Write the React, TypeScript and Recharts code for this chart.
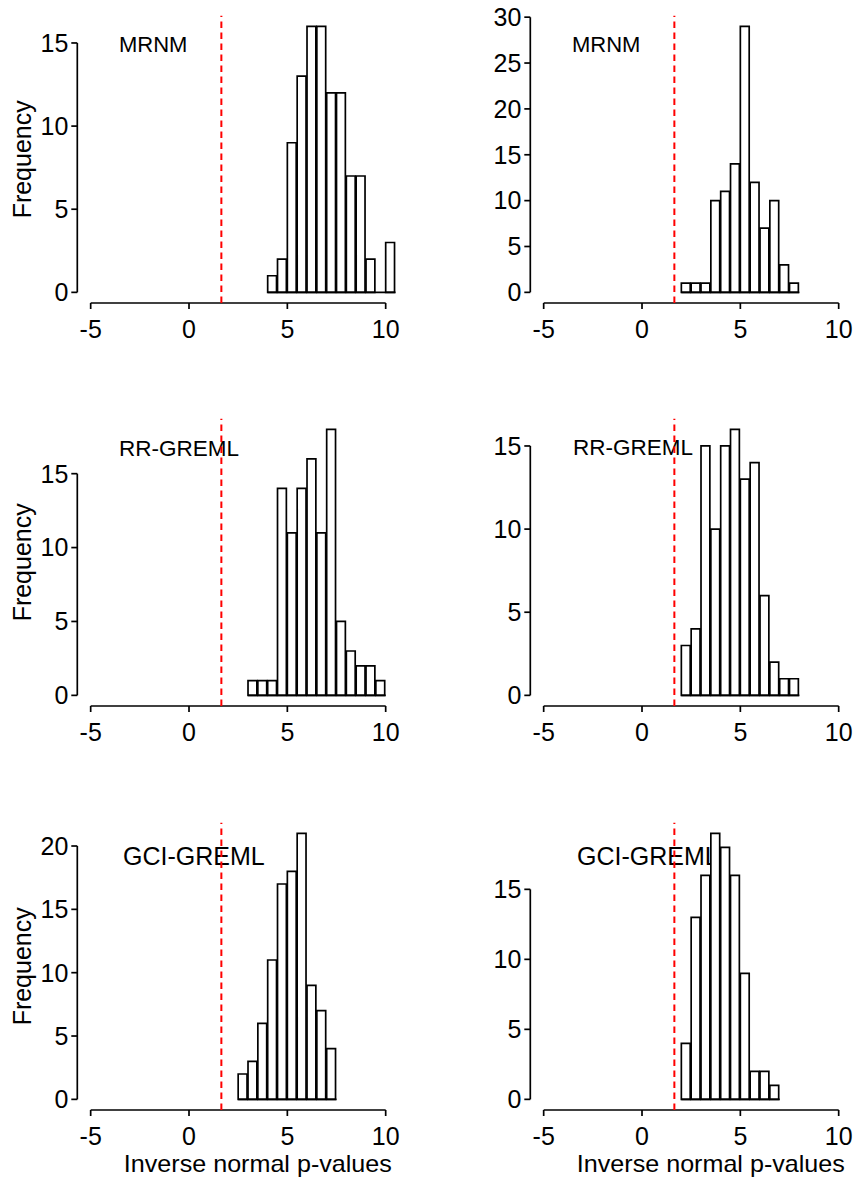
import React from 'react';
import { ComposedChart, Bar, XAxis, YAxis, ReferenceLine } from 'recharts';

// histogram bins (width 0.5): bin midpoints and counts
const mrnmLeftMid = [4.25, 4.75, 5.25, 5.75, 6.25, 6.75, 7.25, 7.75, 8.25, 8.75, 9.25, 9.75, 10.25];
const mrnmLeftCount = [1, 2, 9, 13, 16, 16, 12, 12, 7, 7, 2, 0, 3];

const mrnmRightMid = [2.25, 2.75, 3.25, 3.75, 4.25, 4.75, 5.25, 5.75, 6.25, 6.75, 7.25, 7.75];
const mrnmRightCount = [1, 1, 1, 10, 11, 14, 29, 12, 7, 10, 3, 1];

const rrLeftMid = [3.25, 3.75, 4.25, 4.75, 5.25, 5.75, 6.25, 6.75, 7.25, 7.75, 8.25, 8.75, 9.25, 9.75];
const rrLeftCount = [1, 1, 1, 14, 11, 14, 16, 11, 18, 5, 3, 2, 2, 1];

const rrRightMid = [2.25, 2.75, 3.25, 3.75, 4.25, 4.75, 5.25, 5.75, 6.25, 6.75, 7.25, 7.75];
const rrRightCount = [3, 4, 15, 10, 15, 16, 13, 14, 6, 2, 1, 1];

const gciLeftMid = [2.75, 3.25, 3.75, 4.25, 4.75, 5.25, 5.75, 6.25, 6.75, 7.25];
const gciLeftCount = [2, 3, 6, 11, 17, 18, 21, 9, 7, 4];

const gciRightMid = [2.25, 2.75, 3.25, 3.75, 4.25, 4.75, 5.25, 5.75, 6.25, 6.75];
const gciRightCount = [4, 13, 16, 19, 18, 16, 9, 2, 2, 1];

const xTicks = [-5, 0, 5, 10];
const yTicks15 = [0, 5, 10, 15];
const yTicks20 = [0, 5, 10, 15, 20];
const yTicks30 = [0, 5, 10, 15, 20, 25, 30];

const titles = ['MRNM', 'RR-GREML', 'GCI-GREML'];
const xLabel = 'Inverse normal p-values';
const yLabel = 'Frequency';
const threshold = 1.645; // qnorm(0.95)

// layout (R-like: xlim c(-5, 12), 4% padding)
const X_LO = -5.68;
const X_HI = 12.68;
const Y_AXIS_W = 77.3;
const PLOT_W = 361.1;
const PLOT_H = 287.3;
const TOP_PAD = 15.7;
const X_AXIS_H = 100;
const BIN = 0.5;
const FONT = '"Liberation Sans", Arial, Helvetica, sans-serif';
const INK = '#000';

const zip = (mid: number[], count: number[]) => mid.map((m, i) => ({ mid: m, count: count[i] }));

const panels = [
  { data: zip(mrnmLeftMid, mrnmLeftCount), yTicks: yTicks15, title: titles[0], col: 0, row: 0, tx: 119, tb: 53, tf: 22 },
  { data: zip(mrnmRightMid, mrnmRightCount), yTicks: yTicks30, title: titles[0], col: 1, row: 0, tx: 572, tb: 53, tf: 22 },
  { data: zip(rrLeftMid, rrLeftCount), yTicks: yTicks15, title: titles[1], col: 0, row: 1, tx: 119, tb: 457, tf: 22.5 },
  { data: zip(rrRightMid, rrRightCount), yTicks: yTicks15, title: titles[1], col: 1, row: 1, tx: 573, tb: 456.5, tf: 22.5 },
  { data: zip(gciLeftMid, gciLeftCount), yTicks: yTicks20, title: titles[2], col: 0, row: 2, tx: 123, tb: 865, tf: 25 },
  { data: zip(gciRightMid, gciRightCount), yTicks: yTicks15, title: titles[2], col: 1, row: 2, tx: 577, tb: 865, tf: 25 },
];

const colLeft = [0, 452.5];
const rowTop = [0, 403.4, 807];

const FreqLabel = (props: any) => {
  const vb = props.viewBox;
  const cx = 31;
  const cy = vb.y + vb.height / 2;
  return (
    <text x={cx} y={cy} transform={`rotate(-90 ${cx} ${cy})`} textAnchor="middle"
      fontSize={25} fontFamily={FONT} fill={INK}>
      {yLabel}
    </text>
  );
};

const XLabel = (props: any) => {
  const vb = props.viewBox;
  return (
    <text x={vb.x + vb.width / 2} y={vb.y + 62} textAnchor="middle"
      fontSize={23} fontFamily={FONT} fill={INK} textLength={268} lengthAdjust="spacingAndGlyphs">
      {xLabel}
    </text>
  );
};

const Panel = ({ p }: { p: any }) => {
  const max = Math.max(...p.data.map((d: any) => d.count));
  const yLo = -0.04 * max;
  const yHi = 1.04 * max;
  const lastTick = p.yTicks[p.yTicks.length - 1];
  const first = p.data[0].mid - BIN / 2;
  const last = p.data[p.data.length - 1].mid + BIN / 2;
  const barPx = (BIN * PLOT_W) / (X_HI - X_LO);
  const left = colLeft[p.col];
  const top = rowTop[p.row];
  return (
    <>
      <div style={{
        position: 'absolute', left: p.tx, top: p.tb - 0.8465 * p.tf,
        fontFamily: FONT, fontSize: p.tf, lineHeight: 1, color: INK, whiteSpace: 'nowrap',
      }}>
        {p.title}
      </div>
      <div style={{ position: 'absolute', left, top }}>
        <ComposedChart width={Y_AXIS_W + PLOT_W} height={TOP_PAD + PLOT_H + X_AXIS_H} data={p.data}
          margin={{ top: TOP_PAD, right: 0, bottom: 0, left: 0 }} barCategoryGap={0} barGap={0}>
          <XAxis type="number" dataKey="mid" domain={[X_LO, X_HI]} ticks={xTicks} interval={0}
            allowDataOverflow height={X_AXIS_H} axisLine={false}
            tickLine={{ stroke: INK, strokeWidth: 1.7 }} tickSize={6} tickMargin={11}
            tick={{ fill: INK, fontSize: 25, fontFamily: FONT }}
            label={p.row === 2 ? <XLabel /> : undefined} />
          <YAxis type="number" domain={[yLo, yHi]} ticks={p.yTicks} interval={0} allowDataOverflow
            width={Y_AXIS_W} axisLine={false}
            tickLine={{ stroke: INK, strokeWidth: 1.7 }} tickSize={6} tickMargin={3}
            tick={{ fill: INK, fontSize: 25, fontFamily: FONT }}
            label={p.col === 0 ? <FreqLabel /> : undefined} />
          <Bar dataKey="count" fill="#fff" stroke={INK} strokeWidth={1.7} barSize={barPx}
            isAnimationActive={false} />
          <ReferenceLine segment={[{ x: first, y: 0 }, { x: last, y: 0 }]} stroke={INK} strokeWidth={1.7} ifOverflow="visible" />
          <ReferenceLine segment={[{ x: xTicks[0], y: yLo }, { x: xTicks[xTicks.length - 1], y: yLo }]}
            stroke={INK} strokeWidth={1.7} ifOverflow="visible" />
          <ReferenceLine segment={[{ x: X_LO, y: 0 }, { x: X_LO, y: lastTick }]}
            stroke={INK} strokeWidth={1.7} ifOverflow="visible" />
          <ReferenceLine x={threshold} stroke="#ff0000" strokeWidth={2} strokeDasharray="6.5 4.5" ifOverflow="visible" />
        </ComposedChart>
      </div>
    </>
  );
};

export default function App() {
  return (
    <div style={{ position: 'absolute', left: 0, top: 0, width: 858, height: 1179, overflow: 'hidden', background: '#fff' }}>
      {panels.map((p, i) => <Panel key={i} p={p} />)}
    </div>
  );
}
